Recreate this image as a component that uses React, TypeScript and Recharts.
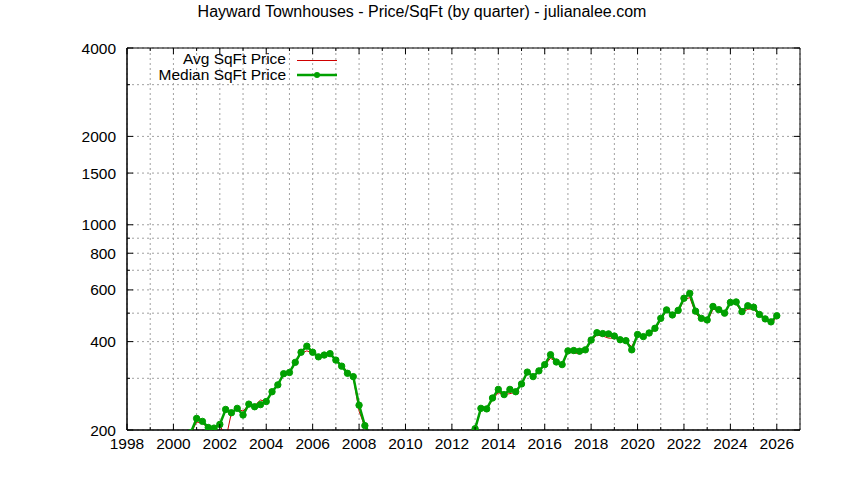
import {
  LineChart,
  Line,
  XAxis,
  YAxis,
  CartesianGrid,
  Legend,
  ReferenceArea,
} from "recharts";

const FONT = '"Liberation Sans", Arial, sans-serif';

// quarter positions (decimal years) - values below 200 are off the chart
const quarters = [
  2000.75, 2001, 2001.25, 2001.5, 2001.75, 2002, 2002.25, 2002.5, 2002.75,
  2003, 2003.25, 2003.5, 2003.75, 2004, 2004.25, 2004.5, 2004.75, 2005,
  2005.25, 2005.5, 2005.75, 2006, 2006.25, 2006.5, 2006.75, 2007, 2007.25,
  2007.5, 2007.75, 2008, 2008.25, 2008.5,
  2012.75, 2013, 2013.25, 2013.5, 2013.75, 2014, 2014.25, 2014.5, 2014.75,
  2015, 2015.25, 2015.5, 2015.75, 2016, 2016.25, 2016.5, 2016.75, 2017,
  2017.25, 2017.5, 2017.75, 2018, 2018.25, 2018.5, 2018.75, 2019, 2019.25,
  2019.5, 2019.75, 2020, 2020.25, 2020.5, 2020.75, 2021, 2021.25, 2021.5,
  2021.75, 2022, 2022.25, 2022.5, 2022.75, 2023, 2023.25, 2023.5, 2023.75,
  2024, 2024.25, 2024.5, 2024.75, 2025, 2025.25, 2025.5, 2025.75, 2026,
];

const avgPrice = [
  195, 213, 211, 203, 203, 210, 185, 229, 236, 232, 244, 242, 253, 250, 268,
  284, 310, 313, 338, 365, 372, 366, 356, 360, 362, 347, 333, 316, 303, 232,
  205, 186,
  182, 201, 235, 235, 254, 268, 264, 266, 269, 285, 313, 303, 317, 332, 351,
  341, 333, 368, 366, 364, 372, 402, 421, 418, 411, 411, 405, 398, 385, 420,
  415, 426, 438, 475, 510, 492, 505, 555, 565, 500, 474, 466, 516, 510, 497,
  540, 538, 501, 516, 516, 492, 476, 458, 485,
];

const medianPrice = [
  196, 219, 214, 204, 203, 209, 235, 229, 237, 225, 245, 240, 244, 250, 270,
  285, 311, 314, 340, 368, 386, 368, 355, 360, 364, 346, 330, 312, 304, 243,
  207, 192,
  185, 202, 237, 236, 257, 275, 264, 275, 270, 287, 315, 304, 318, 334, 361,
  341, 334, 372, 373, 371, 375, 405, 429, 426, 425, 418, 406, 403, 375, 423,
  416, 428, 444, 480, 513, 493, 511, 562, 584, 508, 480, 474, 527, 514, 500,
  544, 546, 506, 530, 524, 495, 478, 467, 490,
];

const yearTicks = [
  1998, 1999, 2000, 2001, 2002, 2003, 2004, 2005, 2006, 2007, 2008, 2009,
  2010, 2011, 2012, 2013, 2014, 2015, 2016, 2017, 2018, 2019, 2020, 2021,
  2022, 2023, 2024, 2025, 2026,
];

const priceTicks = [200, 300, 400, 500, 600, 700, 800, 900, 1000, 1500, 2000, 3000, 4000];
const labeledPrices = [200, 400, 600, 800, 1000, 1500, 2000, 4000];

const PLOT_TOP = 48;
const PLOT_RIGHT = 800;
const RED = "#d00000";
const GREEN = "#00a000";

const chartData = quarters.map((q, i) => ({
  quarter: q,
  avg: avgPrice[i],
  median: medianPrice[i],
}));

const XTick = (props: any) => {
  const { x, y, payload } = props;
  const year = payload.value;
  const major = year % 2 === 0;
  const len = major ? 6 : 3;
  return (
    <g>
      <line x1={x} x2={x} y1={y} y2={y - len} stroke="#000" />
      <line x1={x} x2={x} y1={PLOT_TOP} y2={PLOT_TOP + len} stroke="#000" />
      {major && (
        <text x={x} y={y + 19} textAnchor="middle" fontSize={15.5} fill="#000" fontFamily={FONT}>
          {year}
        </text>
      )}
    </g>
  );
};

const YTick = (props: any) => {
  const { x, y, payload } = props;
  const v = payload.value;
  const labeled = labeledPrices.includes(v);
  const len = labeled ? 6 : 3;
  return (
    <g>
      <line x1={x} x2={x + len} y1={y} y2={y} stroke="#000" />
      <line x1={PLOT_RIGHT} x2={PLOT_RIGHT - len} y1={y} y2={y} stroke="#000" />
      {labeled && (
        <text x={x - 11} y={y} dy="0.36em" textAnchor="end" fontSize={15.5} fill="#000" fontFamily={FONT}>
          {v}
        </text>
      )}
    </g>
  );
};

const renderLegend = () => (
  <svg width={345} height={40} style={{ display: "block" }}>
    <g fontFamily={FONT} fontSize={15.5} fill="#000">
      <text x={286} y={16} textAnchor="end">Avg SqFt Price</text>
      <text x={286} y={31.5} textAnchor="end">Median SqFt Price</text>
    </g>
    <line x1={297} x2={337} y1={12.5} y2={12.5} stroke={RED} strokeWidth={1} />
    <line x1={297} x2={337} y1={27} y2={27} stroke={GREEN} strokeWidth={2.5} />
    <circle cx={317} cy={27} r={3} fill={GREEN} />
  </svg>
);

export default function App() {
  return (
    <div
      style={{
        position: "absolute",
        left: 0,
        top: 0,
        width: 844,
        height: 480,
        background: "#fff",
        fontFamily: FONT,
      }}
    >
      <div
        style={{
          position: "absolute",
          top: 0,
          left: 0,
          width: 844,
          textAlign: "center",
          fontSize: 16,
          lineHeight: "24px",
          color: "#000",
          zIndex: 2,
        }}
      >
        Hayward Townhouses - Price/SqFt (by quarter) - julianalee.com
      </div>
      <LineChart
        width={844}
        height={480}
        data={chartData}
        margin={{ top: PLOT_TOP, right: 44, bottom: 0, left: 0 }}
      >
        <CartesianGrid stroke="#a0a0a0" strokeDasharray="2 3" />
        <XAxis
          dataKey="quarter"
          type="number"
          domain={[1998, 2027]}
          ticks={yearTicks}
          interval={0}
          tickSize={0}
          tickMargin={0}
          tick={XTick}
          stroke="#000"
          height={50}
        />
        <YAxis
          scale="log"
          domain={[200, 4000]}
          allowDataOverflow
          ticks={priceTicks}
          interval={0}
          tickSize={0}
          tickMargin={0}
          tick={YTick}
          stroke="#000"
          width={127}
        />
        <ReferenceArea
          x1={1998}
          x2={2027}
          y1={200}
          y2={4000}
          fill="none"
          stroke="#000"
          strokeWidth={1}
          fillOpacity={0}
        />
        <Legend
          layout="horizontal"
          verticalAlign="middle"
          align="center"
          wrapperStyle={{ position: "absolute", top: 48, left: 0, width: 345 }}
          content={renderLegend}
        />
        <Line
          dataKey="avg"
          stroke={RED}
          strokeWidth={1}
          dot={false}
          activeDot={false}
          isAnimationActive={false}
        />
        <Line
          dataKey="median"
          stroke={GREEN}
          strokeWidth={2.5}
          dot={{ r: 3.2, fill: GREEN, stroke: GREEN, strokeWidth: 1 }}
          activeDot={false}
          isAnimationActive={false}
        />
      </LineChart>
    </div>
  );
}
